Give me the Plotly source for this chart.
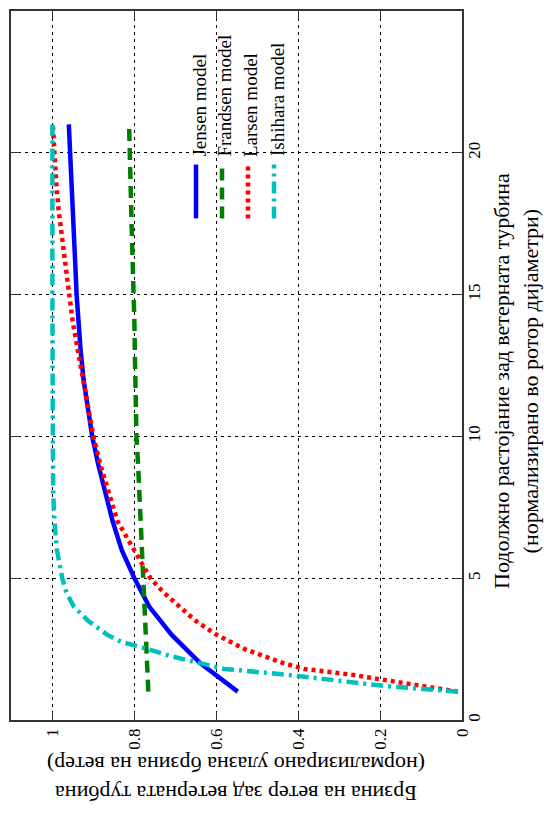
import plotly.graph_objects as go

# ---- data ----
distance_jensen = [1, 2, 3, 4, 5, 6, 7, 8, 9, 10, 11, 12, 13, 14, 15, 16, 17, 18, 19, 20, 21]
velocity_jensen = [0.547, 0.638, 0.708, 0.763, 0.799, 0.830, 0.852, 0.870, 0.887, 0.902, 0.913,
                   0.923, 0.930, 0.936, 0.940, 0.943, 0.946, 0.950, 0.953, 0.956, 0.959]

distance_frandsen = [1, 2, 3, 4, 5, 6, 7, 8, 9, 10, 11, 12, 13, 14, 15, 16, 17, 18, 19, 20, 21]
velocity_frandsen = [0.765, 0.768, 0.771, 0.774, 0.776, 0.779, 0.782, 0.786, 0.790, 0.794, 0.796,
                     0.797, 0.798, 0.799, 0.800, 0.803, 0.805, 0.807, 0.808, 0.809, 0.812]

distance_larsen = [1.0, 1.2, 1.4, 1.6, 1.7, 1.8, 1.9, 2.0, 2.5, 3.0, 3.5, 4.0, 4.5, 5.0, 5.5, 6, 7, 8,
                   9, 10, 11, 12, 13, 14, 15, 16, 17, 18, 19, 20, 21]
velocity_larsen = [0.01, 0.09, 0.185, 0.27, 0.33, 0.385, 0.41, 0.435, 0.53, 0.598, 0.65, 0.69, 0.728,
                   0.760, 0.781, 0.80, 0.840, 0.862, 0.882, 0.899, 0.912, 0.924, 0.938, 0.949, 0.958,
                   0.967, 0.977, 0.984, 0.990, 0.995, 0.998]

distance_ishihara = [1.0, 1.1, 1.2, 1.3, 1.4, 1.5, 1.6, 1.8, 2.0, 2.25, 2.5, 2.75, 3.0, 3.5, 4.0, 4.5,
                     5.0, 6.0, 7.0, 8.0, 10.0, 12, 15, 18, 21]
velocity_ishihara = [0.01, 0.11, 0.19, 0.25, 0.31, 0.36, 0.43, 0.58, 0.638, 0.71, 0.767, 0.83, 0.865,
                     0.912, 0.947, 0.965, 0.975, 0.988, 0.994, 0.997, 0.998, 0.999, 0.999, 0.999, 0.999]

model_names = ["Jensen model", "Frandsen model", "Larsen model", "Ishihara model"]
model_colors = ["#0000FF", "#008000", "#FF0000", "#00BFBF"]
model_dashes = ["solid", "12px,7px", "4px,4px", "12px,5px,3px,5px"]

velocity_ticks = [0, 0.2, 0.4, 0.6, 0.8, 1]
velocity_ticktext = ["0", "0.2", "0.4", "0.6", "0.8", "1"]
distance_ticks = [0, 5, 10, 15, 20, 25]

x_title = "Подолжно растојание зад ветерната турбина<br>(нормализирано во ротор дијаметри)"
y_title = "Брзина на ветер зад ветерната турбина<br>(нормализирано улазна брзина на ветер)"

FONT = "Liberation Serif, Times New Roman, serif"

# ---- figure (chart is drawn rotated: velocity horizontal, distance vertical) ----
series = [
    (distance_jensen, velocity_jensen),
    (distance_frandsen, velocity_frandsen),
    (distance_larsen, velocity_larsen),
    (distance_ishihara, velocity_ishihara),
]

fig = go.Figure()
for (d, v), name, col, dash in zip(series, model_names, model_colors, model_dashes):
    fig.add_trace(go.Scatter(x=v, y=d, mode="lines", name=name,
                             line=dict(color=col, width=4.5, dash=dash),
                             showlegend=False))

W, H = 544, 819
ML, MR, MT, MB = 11, 82, 9, 99
PW, PH = W - ML - MR, H - MT - MB


def px(xp):
    return (xp - ML) / PW


def py(yp):
    return (MT + PH - yp) / PH


annotations = []
shapes = []
# legend (rotated)
leg_text_x = [199.5, 225, 250.5, 277]
leg_line_x = [196, 222, 248, 274]
for name, col, dash, tx, lx in zip(model_names, model_colors, model_dashes, leg_text_x, leg_line_x):
    annotations.append(dict(text=name, textangle=-90, xref="paper", yref="paper",
                            x=px(tx), y=py(157), xanchor="center", yanchor="bottom",
                            showarrow=False, font=dict(family=FONT, size=19, color="black")))
    shapes.append(dict(type="line", xref="paper", yref="paper",
                       x0=px(lx), x1=px(lx), y0=py(217), y1=py(163),
                       line=dict(color=col, width=4.5, dash=dash)))

annotations.append(dict(text=x_title, textangle=-90, xref="paper", yref="paper",
                        x=px(516), y=py(380), xanchor="center", yanchor="middle",
                        showarrow=False, font=dict(family=FONT, size=22, color="black")))
annotations.append(dict(text=y_title, textangle=180, xref="paper", yref="paper",
                        x=px(236), y=py(779), xanchor="center", yanchor="middle",
                        showarrow=False, font=dict(family=FONT, size=22, color="black")))

axis_common = dict(showline=True, linecolor="#333333", linewidth=1.5, mirror="ticks",
                   ticks="inside", ticklen=8, tickcolor="#333333", tickwidth=1,
                   showgrid=True, gridcolor="black", gridwidth=1, griddash="3px,4px",
                   zeroline=False, tickangle=-90,
                   tickfont=dict(family=FONT, size=17, color="black"))

fig.update_layout(
    width=W, height=H,
    margin=dict(l=ML, r=MR, t=MT, b=MB),
    paper_bgcolor="white", plot_bgcolor="white",
    xaxis=dict(range=[1.1, 0], tickvals=velocity_ticks, ticktext=velocity_ticktext, **axis_common),
    yaxis=dict(range=[0, 25], tickvals=distance_ticks, side="right", ticklabelstandoff=-4,
               **axis_common),
    annotations=annotations, shapes=shapes,
)

fig.write_html("out.html")
